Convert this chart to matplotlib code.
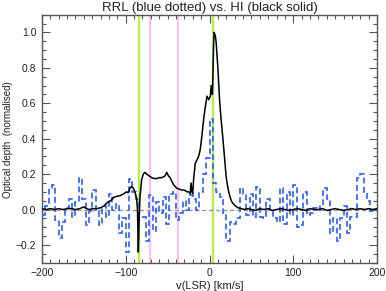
import numpy as np
import matplotlib
matplotlib.use("Agg")
import matplotlib.pyplot as plt
from matplotlib.ticker import MultipleLocator, FuncFormatter

# HI optical depth (black solid)
hi_v = [-200, -195, -190, -185, -180, -175, -170, -165, -160, -155, -150, -147, -143, -140,
        -135, -130, -126, -122, -118, -114, -110, -106, -102, -99, -97, -95, -93, -91, -89,
        -87, -86, -85, -84, -83, -81, -79, -77, -75, -72, -69, -66, -63, -60, -57, -55, -53,
        -51, -49, -47, -45, -43, -41, -39, -36, -33, -30, -27, -25, -23, -22, -21, -20, -19,
        -17, -15, -13, -11, -9, -7, -5, -3, -1, 1, 2, 3.5, 5, 5.5, 7, 8, 10, 12, 14, 16, 18,
        20, 22, 24, 26, 28, 31, 34, 38, 42, 46, 50, 55, 60, 65, 70, 75, 80, 85, 90, 95, 100,
        105, 110, 115, 120, 125, 130, 135, 140, 145, 150, 155, 160, 165, 170, 175, 180, 185,
        190, 195, 200]
hi_tau = [0.005, 0.0, 0.005, 0.0, 0.005, 0.0, 0.005, 0.005, 0.0, 0.005, 0.015, 0.005, 0.0, 0.005,
          0.005, 0.01, 0.02, 0.04, 0.05, 0.07, 0.075, 0.08, 0.09, 0.10, 0.095, 0.12, 0.13, 0.12, 0.10,
          0.06, 0.0, -0.24, -0.05, 0.07, 0.17, 0.20, 0.21, 0.20, 0.19, 0.18, 0.175, 0.175, 0.18, 0.18, 0.185, 0.19,
          0.21, 0.19, 0.18, 0.16, 0.14, 0.13, 0.12, 0.115, 0.11, 0.11, 0.10, 0.10, 0.09, 0.15, 0.10, 0.09, 0.17,
          0.26, 0.28, 0.30, 0.34, 0.42, 0.51, 0.58, 0.64, 0.62, 0.64, 0.70, 0.65, 0.95, 1.00, 0.98, 0.94, 0.80, 0.62, 0.50, 0.40, 0.29,
          0.18, 0.12, 0.08, 0.05, 0.035, 0.02, 0.01, 0.005, 0.0, 0.005, 0.0, -0.005, 0.005, 0.0, 0.005, -0.005, 0.0, 0.005, 0.0, -0.005, 0.0,
          0.005, 0.0, -0.005, 0.005, 0.0, 0.0, 0.005, -0.005, 0.0, 0.005, 0.0, -0.005, 0.0, 0.005, 0.0, 0.005, 0.0,
          0.005, 0.0, 0.005]

# RRL optical depth (blue dotted), 4 km/s channels
rrl_edges = np.arange(-200, 201, 4)
rrl_tau = [-0.03, 0.02, 0.12, 0.14, -0.06, -0.16, -0.07, 0.01, 0.06, -0.04,
           0.04, 0.18, 0.06, -0.09, -0.01, 0.11, 0.00, -0.09, 0.02, -0.04,
           0.09, 0.00, 0.03, -0.13, -0.05, -0.24, 0.17, 0.10, 0.06, -0.04,
           -0.04, -0.18, 0.08, -0.12, 0.04, -0.02, 0.07, -0.08, 0.09, 0.10,
           -0.06, -0.02, 0.05, 0.00, 0.08, 0.06, 0.00, 0.10, 0.20, 0.29,
           0.51, 0.15, 0.10, 0.07, -0.02, -0.18, -0.07, -0.08, -0.05, 0.12,
           0.09, -0.03, 0.09, -0.04, 0.13, -0.04, -0.05, 0.06, -0.01, -0.05,
           -0.07, 0.12, -0.08, 0.10, -0.03, 0.14, -0.10, -0.09, 0.10, -0.03,
           -0.02, 0.01, 0.00, 0.02, 0.12, 0.06, -0.13, -0.05, -0.18, -0.05,
           0.02, -0.13, -0.04, -0.04, 0.18, 0.20, 0.10, 0.05, -0.01, 0.00]

green_v = [-84, 4]
pink_v = [-71, -38]

plt.rcParams['font.family'] = ['Liberation Sans', 'DejaVu Sans']

fig = plt.figure(figsize=(3.86, 2.91), dpi=100)
ax = fig.add_axes([0.1088, 0.0973, 0.8679, 0.8522])

for v in green_v:
    ax.axvline(v, color='#b4f03c', lw=1.6, zorder=1)
for v in pink_v:
    ax.axvline(v, color='#ffbfef', lw=1.6, zorder=1)
ax.axhline(0, color='#999999', lw=1.0, ls=(0, (3, 2)), zorder=2)

ax.stairs(rrl_tau, rrl_edges, baseline=None, color='#2a5cff', lw=1.2,
          ls=(0, (3.5, 2)), zorder=3)
ax.plot(hi_v, hi_tau, color='black', lw=1.1, zorder=4)

ax.set_xlim(-200, 200)
ax.set_ylim(-0.3, 1.1)
ax.xaxis.set_major_locator(MultipleLocator(100))
ax.xaxis.set_minor_locator(MultipleLocator(10))
ax.yaxis.set_major_locator(MultipleLocator(0.2))
ax.yaxis.set_minor_locator(MultipleLocator(0.05))
ax.tick_params(which='both', direction='in', top=True, right=True,
               colors='#555555', labelcolor='#222222', labelsize=7.5)
ax.tick_params(which='major', length=6, width=0.8, pad=4)
ax.tick_params(which='minor', length=3, width=0.8)
ax.xaxis.set_major_formatter(FuncFormatter(lambda x, p: f"{x:.0f}".replace('-', '\u2212')))
ax.yaxis.set_major_formatter(FuncFormatter(lambda x, p: f"{x:.1f}".replace('-', '\u2212')))
for s in ax.spines.values():
    s.set_color('#555555')
    s.set_linewidth(1.0)

ax.set_title('RRL (blue dotted) vs. HI (black solid)', fontsize=9.5, pad=3, color='#222222')
ax.set_xlabel('v(LSR) [km/s]', fontsize=8, labelpad=2, color='#222222')
ax.set_ylabel('Optical depth  (normalised)', fontsize=7.0, color='#222222')
ax.yaxis.set_label_coords(-0.086, 0.495)

fig.savefig('out.png', dpi=100)
